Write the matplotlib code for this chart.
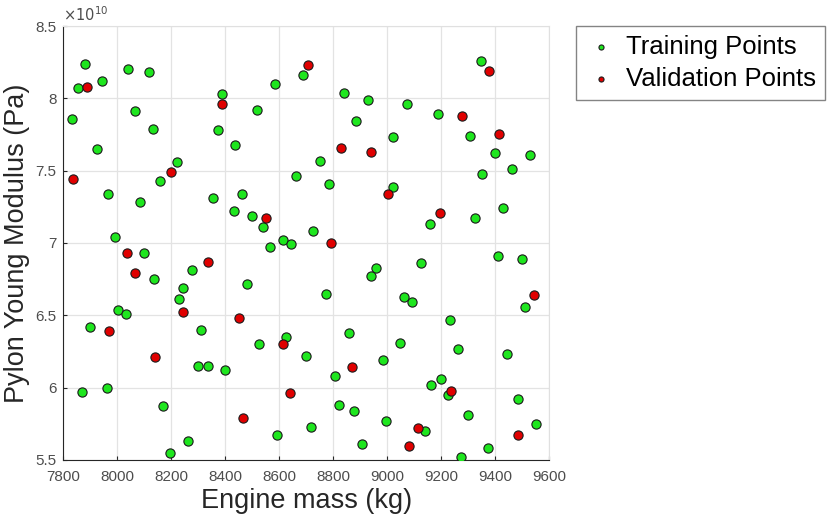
import matplotlib
matplotlib.use("Agg")
import matplotlib.pyplot as plt
from matplotlib.ticker import FuncFormatter

plt.rcParams['font.family'] = ['Liberation Sans', 'DejaVu Sans']

# training points: engine mass (kg), pylon modulus (x1e10 Pa)
train_mass = [7833, 7854, 7880, 7944, 7926, 7964, 7991, 8039, 8066, 8117,
              8131, 8084, 8157, 8220, 8390, 8373, 8436, 8356, 8463, 8432,
              8517, 8498, 8541, 8584, 8613, 8643, 8568, 8664, 8687, 8840,
              8930, 9073, 9188, 8885, 9022, 8753, 8784, 9024, 9347, 9309,
              9401, 9532, 9352, 9463, 9430, 9325, 9161, 8727, 8099, 8137,
              8277, 8244, 8230, 8481, 8001, 8031, 7899, 8311, 8527, 8626,
              8301, 8336, 8400, 7868, 7961, 8170, 8264, 8196, 8592, 9411,
              9500, 8961, 8939, 9126, 8773, 9063, 9094, 9511, 9235, 8861,
              9050, 9263, 9446, 8701, 8984, 8807, 9201, 9163, 9227, 9484,
              8821, 8878, 9299, 8996, 9553, 8717, 9140, 8909, 9373, 9274]
train_mod = [7.86, 8.07, 8.24, 8.12, 7.65, 7.34, 7.04, 8.20, 7.91, 8.18,
             7.79, 7.28, 7.43, 7.56, 8.03, 7.78, 7.68, 7.31, 7.34, 7.22,
             7.92, 7.19, 7.11, 8.10, 7.02, 6.99, 6.97, 7.46, 8.16, 8.04,
             7.99, 7.96, 7.89, 7.84, 7.73, 7.57, 7.41, 7.39, 8.26, 7.74,
             7.62, 7.61, 7.48, 7.51, 7.24, 7.17, 7.13, 7.08, 6.93, 6.75,
             6.81, 6.69, 6.61, 6.72, 6.54, 6.51, 6.42, 6.40, 6.30, 6.35,
             6.15, 6.15, 6.12, 5.97, 6.00, 5.87, 5.63, 5.55, 5.67, 6.91,
             6.89, 6.83, 6.77, 6.86, 6.65, 6.63, 6.59, 6.56, 6.47, 6.38,
             6.31, 6.27, 6.23, 6.22, 6.19, 6.08, 6.06, 6.02, 5.95, 5.92,
             5.88, 5.84, 5.81, 5.77, 5.75, 5.73, 5.70, 5.61, 5.58, 5.52]

# validation points
val_mass = [7887, 7836, 8198, 8389, 8553, 8706, 9378, 9280, 9415, 8830,
            8939, 9005, 9198, 8792, 8035, 8066, 8336, 8244, 7970, 8452,
            8139, 8614, 8640, 8468, 9545, 8870, 9239, 9114, 9485, 9083]
val_mod = [8.08, 7.44, 7.49, 7.96, 7.17, 8.23, 8.19, 7.88, 7.75, 7.66,
           7.63, 7.34, 7.21, 7.00, 6.93, 6.79, 6.87, 6.52, 6.39, 6.48,
           6.21, 6.30, 5.96, 5.79, 6.64, 6.14, 5.98, 5.72, 5.67, 5.60]

fig = plt.figure(figsize=(8.29, 5.20), dpi=100)
ax = fig.add_axes([0.0764, 0.1154, 0.5856, 0.8346])

ax.scatter(train_mass, train_mod, s=44, c='#1ee61e', edgecolors='#1a1a1a',
           linewidths=0.8, label='Training Points', zorder=3)
ax.scatter(val_mass, val_mod, s=44, c='#e00000', edgecolors='#1a1a1a',
           linewidths=0.8, label='Validation Points', zorder=3)

ax.set_xlim(7800, 9600)
ax.set_ylim(5.5, 8.5)
ax.set_xticks(range(7800, 9601, 200))
ax.set_yticks([5.5, 6, 6.5, 7, 7.5, 8, 8.5])
ax.yaxis.set_major_formatter(FuncFormatter(lambda v, p: '%g' % v))
ax.grid(True, color='#e3e3e3', linewidth=0.9, zorder=0)
ax.set_axisbelow(True)

for side in ['top', 'right']:
    ax.spines[side].set_color('#e0e0e0')
for side in ['left', 'bottom']:
    ax.spines[side].set_color('#262626')
ax.tick_params(direction='in', length=3, labelsize=11, colors='#262626',
               labelcolor='#4d4d4d', top=False, right=False)
ax.tick_params(axis='x', pad=7)
ax.tick_params(axis='y', pad=5)

ax.text(0.0, 1.005, r'$\times10^{10}$', transform=ax.transAxes,
        fontsize=10.5, color='#4d4d4d', ha='left', va='bottom')

ax.set_xlabel('Engine mass (kg)', fontsize=19.5, color='#262626', labelpad=3)
ax.set_ylabel('Pylon Young Modulus (Pa)', fontsize=19.5, color='#262626', labelpad=4)

leg = ax.legend(loc='upper left', bbox_to_anchor=(1.0556, 1.0), borderaxespad=0,
                fontsize=18.5, markerscale=0.55, frameon=True, fancybox=False,
                edgecolor='#666666', handletextpad=0.3, borderpad=0.35,
                labelspacing=0.3, handlelength=1.3)
leg.get_frame().set_linewidth(1.0)

fig.savefig('out.png', dpi=100)
